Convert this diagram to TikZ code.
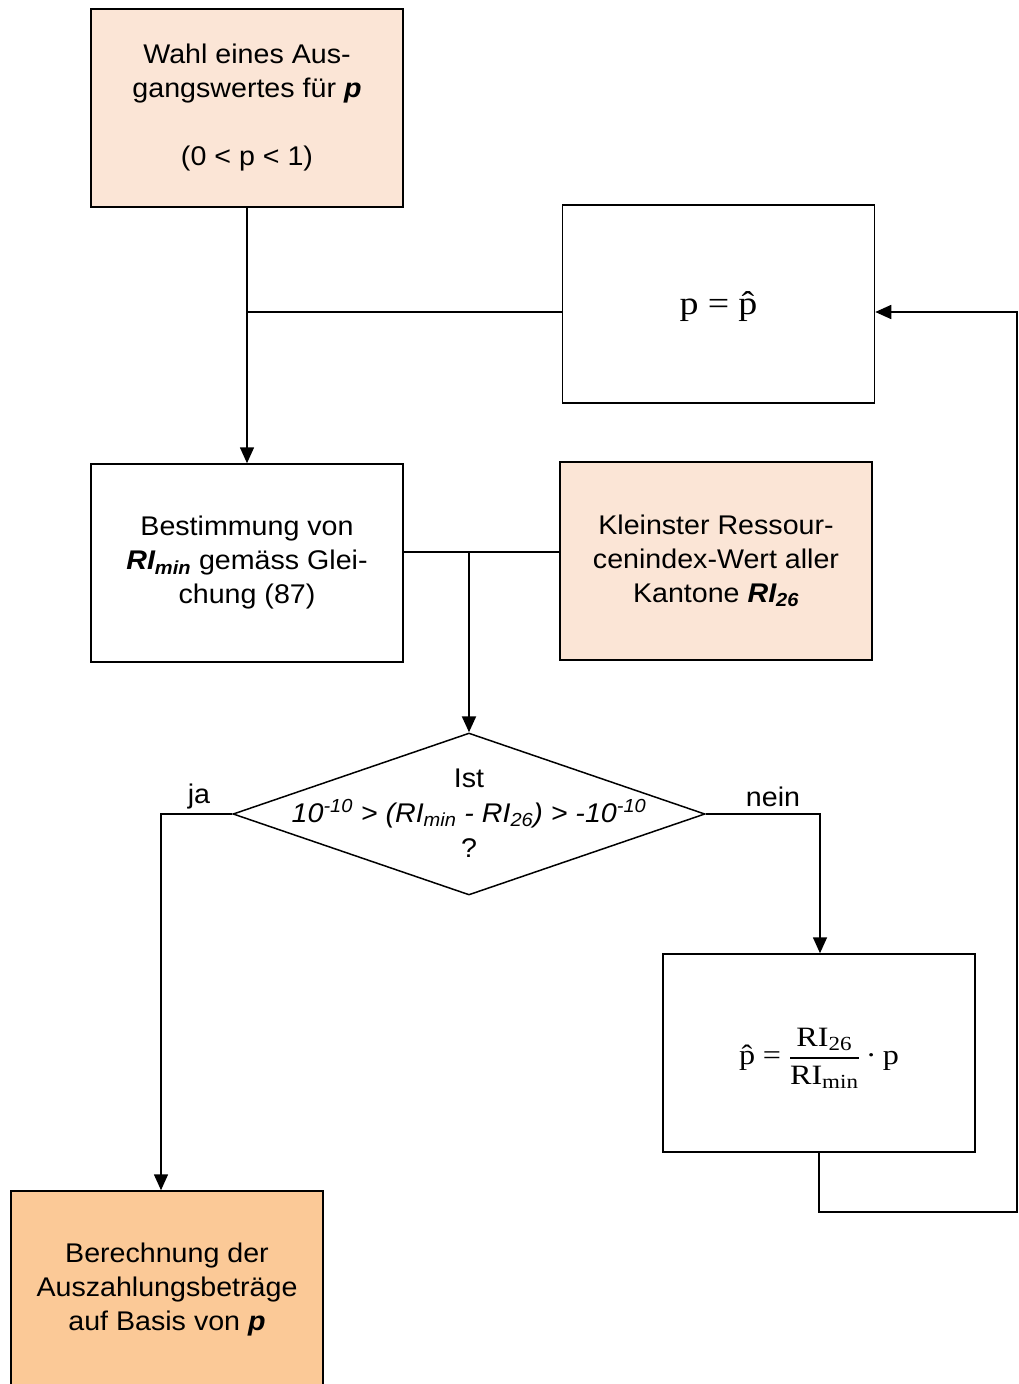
\RequirePackage{fix-cm}
\documentclass[tikz,border=0pt]{standalone}
\usepackage[no-math]{fontspec}
\setmainfont{Liberation Sans}[FakeStretch=1.06]
\newfontfamily\mserif{Liberation Serif}[FakeStretch=1.15]
\newcommand{\mathtx}[1]{\mbox{\mserif #1}}
\newcommand{\mathsb}[1]{\mbox{\mserif\fontsize{20}{22}\selectfont #1}}
\newcommand{\phatsym}{\mbox{\mserif\ooalign{p\cr\hidewidth ˆ\hidewidth\cr}}}
\usetikzlibrary{arrows.meta,shapes.geometric}
\definecolor{peachlight}{HTML}{FBE5D6}
\definecolor{peachdark}{HTML}{FBC997}
\begin{document}
\begin{tikzpicture}[x=1pt,y=-1pt,
  box/.style={draw=black, line width=1.5pt, minimum width=312pt, minimum height=198pt,
    inner sep=0pt, align=center, font=\fontsize{27}{34}\selectfont},
  conn/.style={line width=1.6pt},
  arr/.style={conn, -{Triangle[length=16pt,width=14pt]}},
  lbl/.style={font=\fontsize{27}{35}\selectfont, inner sep=0pt, align=center}]
\useasboundingbox (0,0) rectangle (1019,1384);
\clip (0,0) rectangle (1019,1384);

% boxes
\node[box, fill=peachlight] (A) at (247,108)
  {Wahl eines Aus-\\gangswertes für \textbf{\textit{p}}\\\mbox{}\\(0 < p < 1)};
\node[box] (pbox) at (718.5,304) {};
\node[lbl, font=\fontsize{33}{36}\selectfont] (ptext) at (718.5,310)
  {$\mathtx{p}\mathrel{\mathtx{=}}\phatsym$};
\node[box] (B) at (247,563)
  {Bestimmung von\\\textbf{\textit{RI\textsubscript{min}}} gemäss Glei-\\chung (87)};
\node[box, fill=peachlight] (C) at (716,561)
  {Kleinster Ressour-\\cenindex-Wert aller\\Kantone \textbf{\textit{RI\textsubscript{26}}}};
\node[box] (F) at (819,1053) {};
\node[lbl, font=\fontsize{28}{34}\selectfont] (ftext) at (819,1058)
  {$\displaystyle\phatsym\mathrel{\mathtx{=}}{\mathtx{RI}_{\mathsb{26}}\above 2pt\mathtx{RI}_{\mathsb{min}}}\mathbin{\mathtx{·}}\mathtx{p}$};
\node[box, fill=peachdark] (D) at (167,1290)
  {Berechnung der\\Auszahlungsbeträge\\auf Basis von \textbf{\textit{p}}};

% decision
\node[draw, diamond, line width=1.5pt, minimum width=472pt, minimum height=162pt,
  inner sep=0pt] (dia) at (469,814) {};
\node[lbl] (diat) at (469,813)
  {Ist\\\textit{10\textsuperscript{-10} > (RI\textsubscript{min} - RI\textsubscript{26}) > -10\textsuperscript{-10}}\\?};
\node[lbl] (ja) at (199,797) {ja};
\node[lbl] (nein) at (773,797) {nein};

% coordinates
\coordinate (J1) at (247,312);
\coordinate (J2) at (469,552);
\coordinate (Y1) at (161,814);
\coordinate (N1) at (820,814);
\coordinate (L1) at (819,1212);
\coordinate (L2) at (1017,1212);

% connectors
\draw[arr] (A.south) -- (B.north);
\draw[conn] (J1) -- (J1 -| pbox.west);
\draw[conn] (B.east |- J2) -- (C.west |- J2);
\draw[arr, line width=2.2pt] (J2) -- (dia.north);
\draw[arr] (dia.west) -- (Y1) -- (Y1 |- D.north);
\draw[arr] (dia.east) -- (N1) -- (N1 |- F.north);
\draw[arr] (F.south) -- (L1) -- (L2) -- (L2 |- J1) -- (pbox.east |- J1);
\end{tikzpicture}
\end{document}
